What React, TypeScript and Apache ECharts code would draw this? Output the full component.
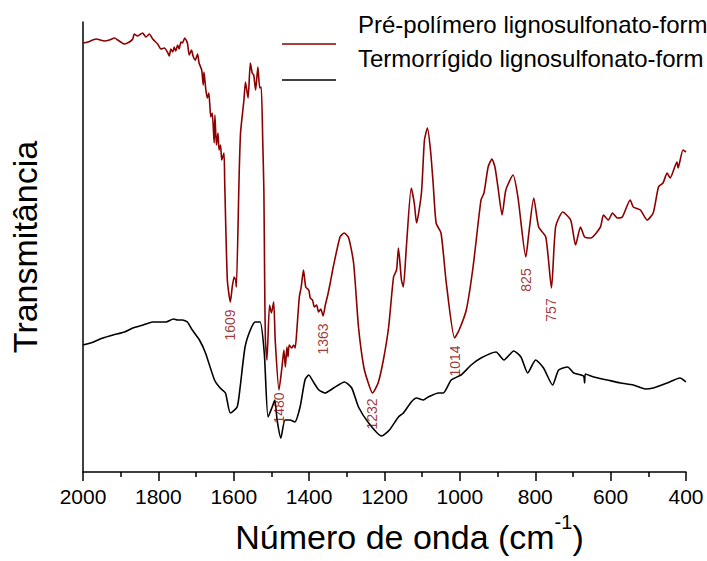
import React, { useEffect, useRef } from "react";
import * as echarts from "echarts";

// Pré-polímero lignosulfonato-formaldeído (wavenumber, transmittance a.u.)
const preWn = [
  2000, 1987, 1965, 1943, 1930, 1916, 1908, 1890, 1877, 1868, 1864, 1855, 1842, 1833, 1824, 1815,
  1802, 1793, 1784, 1776, 1771, 1767, 1762, 1758, 1754, 1749, 1745, 1740, 1736, 1730, 1723, 1718,
  1712, 1708, 1702, 1696, 1692, 1685, 1681, 1679, 1674, 1670, 1666, 1661, 1657, 1652, 1650, 1646,
  1642, 1639, 1635, 1632, 1626, 1624, 1617, 1609, 1604, 1599, 1595, 1593, 1586, 1582, 1573, 1569,
  1562, 1556, 1551, 1547, 1542, 1536, 1531, 1527, 1523, 1520, 1518, 1516, 1512, 1505, 1500, 1494,
  1490, 1480, 1472, 1467, 1463, 1459, 1456, 1453, 1446, 1441, 1437, 1432, 1426, 1421, 1415, 1409,
  1401, 1397, 1391, 1386, 1380, 1375, 1369, 1363, 1357, 1350, 1344, 1336, 1318, 1307, 1295, 1282,
  1269, 1255, 1243, 1232, 1217, 1203, 1189, 1176, 1168, 1163, 1155, 1150, 1142, 1129, 1121, 1115,
  1102, 1094, 1086, 1078, 1071, 1063, 1050, 1036, 1014, 1002, 983, 965, 944, 936, 925, 915,
  907, 899, 888, 878, 859, 846, 825, 817, 804, 791, 772, 757, 746, 727, 706, 693,
  680, 669, 653, 627, 619, 606, 595, 582, 569, 548, 540, 521, 503, 487, 473, 461,
  450, 442, 424, 421, 408, 400,
];
const preT = [
  429, 430, 433, 431, 432, 434, 432, 428, 430, 433, 438, 436, 439, 435, 438, 433,
  428, 423, 424, 420, 416, 423, 420, 425, 421, 427, 423, 430, 429, 434, 429, 417,
  422, 416, 412, 418, 409, 402, 387, 400, 382, 374, 379, 355, 359, 329, 357, 327,
  339, 322, 327, 312, 319, 290, 192, 170, 185, 195, 192, 185, 292, 339, 372, 390,
  374, 409, 399, 397, 382, 405, 384, 385, 330, 280, 192, 132, 112, 167, 159, 170,
  132, 82, 105, 122, 105, 125, 115, 127, 124, 127, 124, 145, 175, 185, 202, 185,
  182, 174, 172, 165, 167, 160, 163, 156, 167, 178, 189, 205, 235, 239, 234, 209,
  145, 105, 89, 79, 89, 112, 145, 195, 202, 224, 192, 185, 225, 284, 269, 249,
  279, 332, 344, 322, 289, 249, 239, 189, 134, 142, 162, 205, 272, 279, 305, 313,
  305, 285, 257, 282, 297, 275, 215, 239, 274, 245, 235, 184, 245, 260, 252, 227,
  245, 235, 234, 245, 257, 252, 259, 254, 255, 272, 265, 262, 252, 259, 285, 289,
  299, 294, 310, 304, 322, 320,
];

// Termorrígido lignosulfonato-formaldeído
const curedWn = [
  2000, 1980, 1947, 1920, 1890, 1868, 1840, 1815, 1780, 1760, 1749, 1736, 1723, 1710, 1691, 1675,
  1651, 1636, 1622, 1609, 1591, 1583, 1570, 1556, 1543, 1530, 1519, 1509, 1498, 1491, 1485, 1475,
  1464, 1451, 1438, 1424, 1411, 1401, 1387, 1374, 1358, 1335, 1306, 1287, 1269, 1242, 1208, 1187,
  1163, 1150, 1129, 1115, 1097, 1084, 1057, 1044, 1023, 997, 970, 944, 904, 883, 857, 838,
  820, 799, 778, 754, 738, 714, 698, 672, 669, 667, 645, 609, 574, 540, 508, 487,
  450, 416, 400,
];
const curedT = [
  127, 129, 134, 137, 140, 144, 147, 150, 150, 153, 152, 152, 150, 142, 132, 119,
  92, 84, 79, 59, 65, 85, 125, 142, 150, 150, 119, 55, 65, 72, 52, 34,
  52, 52, 50, 65, 92, 97, 89, 82, 79, 84, 90, 84, 65, 49, 36, 42,
  55, 59, 70, 74, 72, 75, 79, 79, 92, 97, 107, 114, 120, 112, 121, 115,
  99, 112, 104, 87, 102, 105, 99, 96, 89, 98, 95, 92, 89, 87, 83, 84,
  89, 94, 90,
];

// Band assignments marked on the uncured spectrum, with label heights
const bandWn = [1609, 1480, 1363, 1232, 1014, 825, 757];
const bandLabelT = [147, 64, 133, 58, 111, 192, 162];

const xTicks = { min: 400, max: 2000, step: 200 };

const RED = "#8B0000";
const FONT = "'Liberation Sans', Arial, sans-serif";

const zip = (xs: number[], ys: number[]) => xs.map((x, i) => [x, ys[i]]);

export default function App() {
  const ref = useRef<HTMLDivElement>(null);

  useEffect(() => {
    const chart = echarts.init(ref.current!, null, { renderer: "svg" });
    chart.setOption({
      animation: false,
      backgroundColor: "#fff",
      textStyle: { fontFamily: FONT },
      grid: { left: 80, right: 21, top: 22, bottom: 89, containLabel: false },
      xAxis: {
        type: "value",
        inverse: true,
        min: xTicks.min,
        max: xTicks.max,
        interval: xTicks.step,
        name: "{main|Número de onda (cm}{sup|-1}{main|)}",
        nameLocation: "middle",
        nameGap: 40,
        nameTextStyle: {
          color: "#000",
          fontFamily: FONT,
          padding: [0, 0, 0, 50],
          rich: {
            main: { fontSize: 34, lineHeight: 42, verticalAlign: "bottom", color: "#000", fontFamily: FONT },
            sup: { fontSize: 20, lineHeight: 22, verticalAlign: "top", color: "#000", fontFamily: FONT },
          },
        },
        axisLine: { show: true, lineStyle: { color: "#000", width: 1.5 } },
        axisTick: { show: true, length: 9, lineStyle: { color: "#000", width: 1.5 } },
        minorTick: { show: true, splitNumber: 2, length: 5, lineStyle: { color: "#000", width: 1.5 } },
        axisLabel: {
          fontSize: 21,
          color: "#000",
          margin: 14,
          fontFamily: FONT,
          showMinLabel: true,
          showMaxLabel: true,
          formatter: (v: number) => String(v),
        },
        splitLine: { show: false },
      },
      yAxis: {
        type: "value",
        min: 0,
        max: 450,
        name: "Transmitância",
        nameLocation: "middle",
        nameGap: 41,
        nameTextStyle: { fontSize: 34, color: "#000", fontFamily: FONT },
        axisLine: { show: true, lineStyle: { color: "#000", width: 1.5 } },
        axisTick: { show: false },
        axisLabel: { show: false },
        splitLine: { show: false },
      },
      graphic: [
        { type: "line", shape: { x1: 282, y1: 44, x2: 336, y2: 44 }, style: { stroke: RED, lineWidth: 1.5 } },
        { type: "line", shape: { x1: 282, y1: 80, x2: 336, y2: 80 }, style: { stroke: "#000", lineWidth: 1.5 } },
        {
          type: "text",
          x: 358,
          y: 24,
          style: { text: "Pré-polímero lignosulfonato-form", fontSize: 24, fill: "#000", fontFamily: FONT, verticalAlign: "middle" },
        },
        {
          type: "text",
          x: 358,
          y: 58,
          style: { text: "Termorrígido lignosulfonato-form", fontSize: 24, fill: "#000", fontFamily: FONT, verticalAlign: "middle" },
        },
      ],
      series: [
        {
          name: "Pré-polímero lignosulfonato-form",
          type: "line",
          data: zip(preWn, preT),
          showSymbol: false,
          symbol: "none",
          smooth: 0.2,
          lineStyle: { color: RED, width: 1.6 },
          z: 3,
        },
        {
          name: "Termorrígido lignosulfonato-form",
          type: "line",
          data: zip(curedWn, curedT),
          showSymbol: false,
          symbol: "none",
          smooth: 0.2,
          lineStyle: { color: "#000", width: 1.6 },
          z: 2,
        },
        {
          type: "scatter",
          data: zip(bandWn, bandLabelT),
          symbolSize: 0,
          silent: true,
          label: {
            show: true,
            position: "inside",
            rotate: 90,
            fontSize: 14,
            color: RED,
            fontFamily: FONT,
            formatter: (p: any) => String(p.value[0]),
          },
          z: 4,
        },
      ],
    });
    return () => chart.dispose();
  }, []);

  return <div ref={ref} style={{ position: "absolute", left: 0, top: 0, width: 707, height: 561 }} />;
}
